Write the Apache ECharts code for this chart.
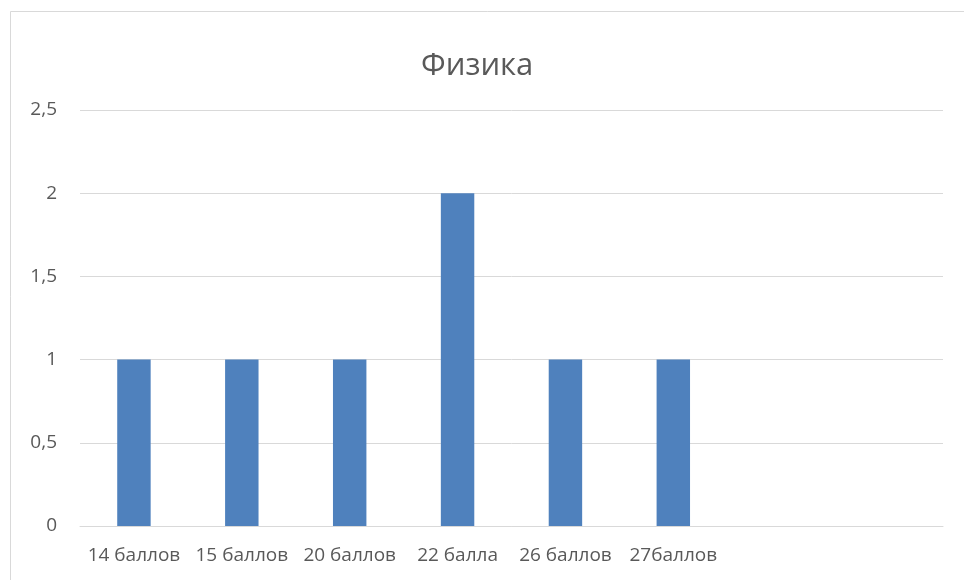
<!DOCTYPE html>
<html>
<head>
<meta charset="utf-8">
<script src="https://cdn.jsdelivr.net/npm/echarts@6/dist/echarts.min.js"></script>
<style>
  html, body { margin: 0; padding: 0; background: #fff; }
  #chart { width: 964px; height: 580px; }
</style>
</head>
<body>
<div id="chart"></div>
<script>
// Score categories (two trailing empty slots kept as blank columns)
const categories = ['14 баллов', '15 баллов', '20 баллов', '22 балла', '26 баллов', '27баллов', ' ', '  '];
const counts = [1, 1, 1, 2, 1, 1, null, null];
const yTicks = [0, 0.5, 1, 1.5, 2, 2.5];

const chart = echarts.init(document.getElementById('chart'), null, { renderer: 'canvas' });

chart.setOption({
  animation: false,
  backgroundColor: '#ffffff',
  graphic: [{
    type: 'rect',
    shape: { x: 10.5, y: 11.5, width: 970, height: 600 },
    style: { fill: 'none', stroke: '#d9d9d9', lineWidth: 1 },
    silent: true
  }],
  title: {
    text: 'Физика',
    left: 416,
    top: 46,
    textStyle: { fontFamily: 'Open Sans', fontSize: 31, fontWeight: 'normal', color: '#595959' }
  },
  grid: { left: 80, right: 21, top: 110, bottom: 54, containLabel: false },
  xAxis: {
    type: 'category',
    data: categories,
    axisLine: { show: true, lineStyle: { color: '#d9d9d9', width: 1 } },
    axisTick: { show: false },
    axisLabel: {
      interval: 0,
      margin: 20,
      fontFamily: 'Open Sans',
      fontSize: 19,
      color: '#595959'
    }
  },
  yAxis: {
    type: 'value',
    min: yTicks[0],
    max: yTicks[yTicks.length - 1],
    interval: 0.5,
    axisLine: { show: false },
    axisTick: { show: false },
    splitLine: { lineStyle: { color: '#d9d9d9', width: 1 } },
    axisLabel: {
      margin: 23,
      fontFamily: 'Open Sans',
      fontSize: 19,
      color: '#595959',
      formatter: v => String(v).replace('.', ',')
    }
  },
  series: [{
    type: 'bar',
    data: counts,
    barWidth: '31%',
    itemStyle: { color: '#4f81bd' }
  }]
});
</script>
</body>
</html>
